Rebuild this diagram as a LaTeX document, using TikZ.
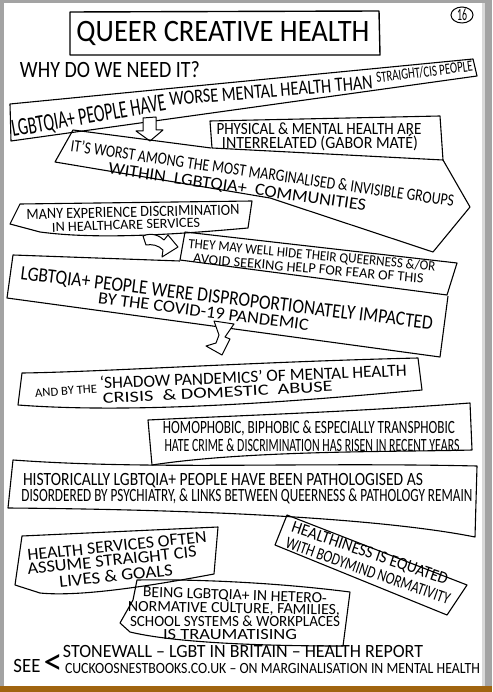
\documentclass[tikz,border=0pt]{standalone}
\usepackage{fontspec}
\setmainfont{Carlito}
\usepackage{graphicx}
\usetikzlibrary{shapes.geometric}
\definecolor{pagegrey}{HTML}{A3A3A3}
\definecolor{bandbrown}{HTML}{A0640F}
\newcommand\hw[3]{\resizebox{#1pt}{#2pt}{\vphantom{H}\smash{#3}}}
\tikzset{
  box/.style={draw=black, line width=1.1pt, line join=round},
  txt/.style={inner sep=0pt, outer sep=0pt, anchor=center},
  harrow/.style={draw=black, line width=1pt, fill=white, line join=round},
}
\begin{document}
\begin{tikzpicture}[x=1pt,y=-1pt]
\useasboundingbox (0,0) rectangle (492,692);
\fill[pagegrey] (0,0) rectangle (492,692);
\fill[white] (4,3) rectangle (484,686);
\fill[black!15] (482,3) rectangle (485,686);
\fill[bandbrown] (0,686) rectangle (492,692);

% title
\draw[box, line width=1.4pt] (70,12) -- (379,11) -- (380,55) -- (70,55) -- cycle;
\node[txt] (title) at (223,32) {\hw{293}{20}{QUEER CREATIVE HEALTH}};
\node[txt, draw, ellipse, line width=1pt, minimum width=22pt, minimum height=16pt] (pnum) at (462,15) {\hw{10}{11}{16}};
\node[txt] (why) at (110,70) {\hw{180}{15}{WHY DO WE NEED IT?}};

% box 1
\draw[box] (10,104) -- (473,59) -- (477,76) -- (11,141) -- cycle;
\node[txt, rotate=9.9] (t1a) at (88.6,115.6) {\hw{156}{16}{LGBTQIA+ PEOPLE HAVE}};
\node[txt, rotate=4.7] (t1b) at (271,90.7) {\hw{204}{13}{WORSE MENTAL HEALTH THAN}};
\node[txt, rotate=7] (t1c) at (424.4,72) {\hw{97}{10}{STRAIGHT/CIS PEOPLE}};

% down arrow
\draw[harrow] (143,118) -- (156,117) -- (156,130) -- (163,130) -- (150,141) -- (136,131) -- (143,131) -- cycle;

% physical box
\draw[box] (210,121) -- (440,116) -- (443,160) -- (212,148) -- cycle;
\node[txt] (t2a) at (319,129) {\hw{205}{11}{PHYSICAL \& MENTAL HEALTH ARE}};
\node[txt] (t2b) at (320,143) {\hw{196}{11}{INTERRELATED (GABOR MATÉ)}};

% it's worst box
\draw[box] (211,148) -- (73,130) -- (55,162) -- (270,198) -- (433,252) -- (470,207) -- (443,160);
\node[txt, rotate=-8.2] (t3a) at (262.4,173.5) {\hw{387}{11}{IT'S WORST AMONG THE MOST MARGINALISED \& INVISIBLE GROUPS}};
\node[txt, rotate=-8.2] (t3b) at (237.4,187) {\hw{260}{11}{WITHIN \ LGBTQIA+ \ COMMUNITIES}};

% many experience box
\draw[box] (20,204) -- (252,201) -- (248,228) .. controls (180,234) and (100,240) .. (40,232) -- (10,224) -- cycle;
\node[txt, rotate=1.3] (t4a) at (133,212) {\hw{213}{10}{MANY EXPERIENCE DISCRIMINATION}};
\node[txt, rotate=2] (t4b) at (126,225) {\hw{148}{9}{IN HEALTHCARE SERVICES}};

% curved arrow
\draw[harrow] (143,236) .. controls (152,232) and (160,236) .. (164,240) -- (168,235) -- (178,247) -- (162,257) -- (163,250) .. controls (158,245) and (152,244) .. (146,245) -- cycle;

% they may box
\draw[box] (185,232) -- (457,263) -- (447,295) -- (180,260) -- cycle;
\node[txt, rotate=-5.3] (t5a) at (311.9,255) {\hw{248}{9}{THEY MAY WELL HIDE THEIR QUEERNESS \&/OR}};
\node[txt, rotate=-5] (t5b) at (308.4,268.5) {\hw{231}{9}{AVOID SEEKING HELP FOR FEAR OF THIS}};

% covid box
\draw[box] (180,261) -- (13,255) -- (7,298) -- (440,357) -- (448,296);
\node[txt, rotate=-6.9] (t6a) at (226.9,298) {\hw{415}{13}{LGBTQIA+ PEOPLE WERE DISPROPORTIONATELY IMPACTED}};
\node[txt, rotate=-7.3] (t6b) at (203.5,311.5) {\hw{212}{11}{BY THE COVID-19 PANDEMIC}};

% lightning arrow
\draw[harrow] (214,321) -- (234,324) -- (225,337) -- (230,339) -- (222,355) -- (206,346) -- (216,343) -- (219,335) -- cycle;

% shadow pandemics box
\draw[box] (22,373) .. controls (100,372) and (250,362) .. (418,358) -- (422,390) .. controls (330,398) and (150,415) .. (18,405) -- cycle;
\node[txt, rotate=4] (t7a) at (66,391) {\hw{62}{8}{AND BY THE}};
\node[txt, rotate=2.4] (t7b) at (253.3,377) {\hw{307}{11}{`SHADOW PANDEMICS' OF MENTAL HEALTH}};
\node[txt, rotate=3] (t7c) at (217.7,392.5) {\hw{230}{10}{CRISIS \ \& DOMESTIC \ ABUSE}};

% hate crime box
\draw[box] (148,420) .. controls (250,415) and (350,412) .. (470,403) -- (472,450) .. controls (400,452) and (250,450) .. (152,465) -- cycle;
\node[txt] (t8a) at (309,427) {\hw{292}{12}{HOMOPHOBIC, BIPHOBIC \& ESPECIALLY TRANSPHOBIC}};
\node[txt] (t8b) at (312,445) {\hw{295}{12}{HATE CRIME \& DISCRIMINATION HAS RISEN IN RECENT YEARS}};

% historically box
\draw[box] (13,460) .. controls (150,470) and (300,462) .. (477,466) -- (475,537) .. controls (400,522) and (250,510) .. (8,508) -- cycle;
\node[txt] (t9a) at (223,479) {\hw{400}{12}{HISTORICALLY LGBTQIA+ PEOPLE HAVE BEEN PATHOLOGISED AS}};
\node[txt] (t9b) at (247,495) {\hw{451}{12}{DISORDERED BY PSYCHIATRY, \& LINKS BETWEEN QUEERNESS \& PATHOLOGY REMAIN}};

% health services box
\draw[box] (22,536) -- (218,527) -- (214,574) .. controls (150,586) and (80,597) .. (40,593) -- (15,585) -- cycle;
\node[txt, rotate=6] (t10a) at (117,546) {\hw{180}{11}{HEALTH SERVICES OFTEN}};
\node[txt, rotate=6] (t10b) at (112,560.5) {\hw{170}{11}{ASSUME STRAIGHT CIS}};
\node[txt, rotate=6] (t10c) at (116,576) {\hw{114}{11}{LIVES \& GOALS}};

% healthiness box
\draw[box] (287,515) -- (467,585) -- (447,615) -- (275,545) -- cycle;
\node[txt, rotate=-18.9] (t11a) at (370,553) {\hw{164}{11}{HEALTHINESS IS EQUATED}};
\node[txt, rotate=-19.3] (t11b) at (368,571) {\hw{173}{11}{WITH BODYMIND NORMATIVITY}};

% being box
\draw[box] (137,580) .. controls (200,579) and (280,583) .. (350,592) -- (343,646) .. controls (280,646) and (180,644) .. (130,632) -- (120,623) -- (133,600) -- cycle;
\node[txt, rotate=-2] (t12a) at (235,595) {\hw{184}{10}{BEING LGBTQIA+ IN HETERO-}};
\node[txt, rotate=-1] (t12b) at (234,608) {\hw{212}{10}{NORMATIVE CULTURE, FAMILIES,}};
\node[txt] (t12c) at (235,621) {\hw{210}{10}{SCHOOL SYSTEMS \& WORKPLACES}};
\node[txt] (t12d) at (230,634) {\hw{134}{10}{IS TRAUMATISING}};

% references
\node[txt] (see) at (27,666) {\hw{27}{13}{SEE}};
\node[txt] (lt) at (53,664) {\resizebox{19pt}{20pt}{<}};
\node[txt] (st) at (243,651.5) {\hw{360}{12}{STONEWALL – LGBT IN BRITAIN – HEALTH REPORT}};
\node[txt] (ck) at (272.5,668) {\hw{415}{10}{CUCKOOSNESTBOOKS.CO.UK – ON MARGINALISATION IN MENTAL HEALTH}};
\end{tikzpicture}
\end{document}
